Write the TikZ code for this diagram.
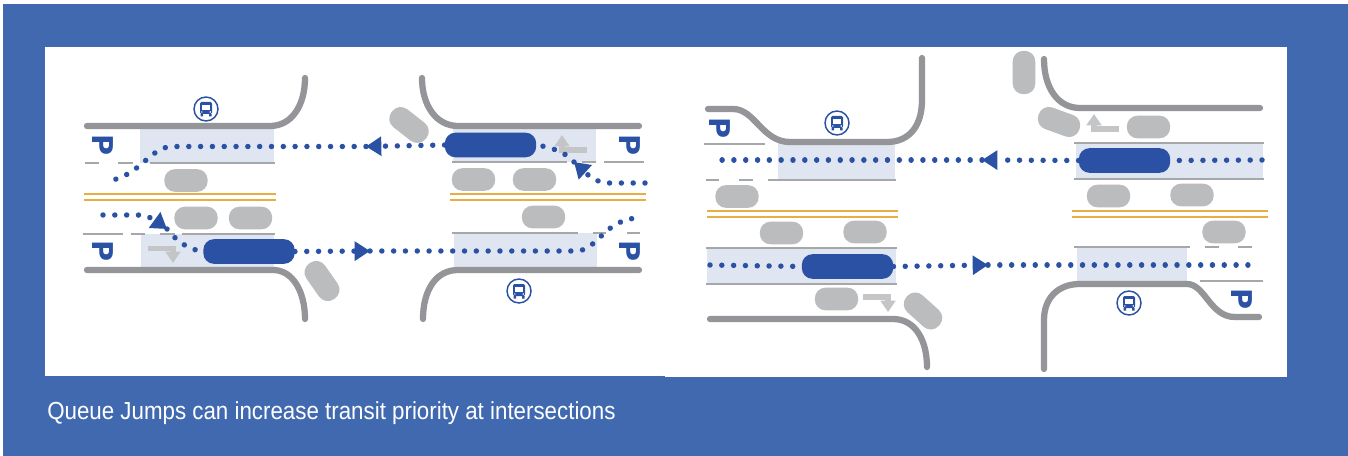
\documentclass[tikz,border=0pt]{standalone}
\usepackage{fontspec}
\setmainfont{Liberation Sans}
\newfontfamily\parkfont{DejaVu Sans}
\usetikzlibrary{arrows.meta,positioning,calc}
\definecolor{panelblue}{HTML}{4169B0}
\definecolor{busblue}{HTML}{2A51A3}
\definecolor{curbgray}{HTML}{949598}
\definecolor{cargray}{HTML}{BBBCBE}
\definecolor{turngray}{HTML}{C4C5C7}
\definecolor{linegray}{HTML}{A6A7A9}
\definecolor{lanefill}{HTML}{DFE5F1}
\definecolor{centerline}{HTML}{E8AE42}
\tikzset{
  bus/.style={fill=busblue,rounded corners=8pt,minimum width=68.5pt,minimum height=18.5pt,inner sep=0pt},
  car/.style={fill=cargray,rounded corners=8pt,minimum width=32.5pt,minimum height=17pt,inner sep=0pt},
  curb/.style={curbgray,line width=4.7pt,line cap=round},
  lane/.style={linegray,line width=1.2pt},
  yellowline/.style={centerline,line width=1.2pt},
  route/.style={busblue,line width=4.1pt,line cap=round,dash pattern=on 0.01pt off 8.85pt},
  fl/.style={-{Triangle[length=11.5pt,width=14pt]}},
  turn/.style={turngray,line width=3.9pt,-{Triangle[length=8.5pt,width=11pt]}},
  parking/.style={text=busblue,font=\parkfont\fontsize{21.5}{22}\selectfont\bfseries,rotate=-90,inner sep=0pt},
  stop/.pic={
    \draw[busblue,fill=white,line width=1.1pt] (0,0) circle (12);
    \fill[busblue,rounded corners=1pt] (-6,-7) rectangle (6,5);
    \fill[white] (-4,-4) rectangle (4,1);
    \fill[busblue] (-5.5,5) rectangle (-3,7.5) (3,5) rectangle (5.5,7.5);
    \fill[white] (-4.2,3) circle (0.8) (4.2,3) circle (0.8);
  },
}
\begin{document}
\begin{tikzpicture}[x=0.75pt,y=-0.75pt]
  \useasboundingbox (0,0) rectangle (1348,456);
  \fill[white] (0,0) rectangle (1348,456);
  \fill[panelblue] (3,4) rectangle (1348,456);
  \fill[white] (45,47) rectangle (665,376);
  \fill[white] (665,47) rectangle (1287,377);
  \node[text=white,font=\fontsize{18.5}{20}\selectfont,anchor=base west,inner sep=0pt] (caption) at (47,419)
    {\scalebox{0.905}[1]{Queue Jumps can increase transit priority at intersections}};

  % left junction
  \fill[lanefill] (140,126) rectangle (274,163);
  \fill[lanefill] (141,234) rectangle (274,270);
  \fill[lanefill] (453,126) rectangle (596,162);
  \fill[lanefill] (454,233) rectangle (597,270);
  \draw[curb] (87,126) -- (270,126) .. controls (292,126) and (305,105) .. (305,78);
  \draw[curb] (87,270) -- (273,270) .. controls (293,270) and (305,292) .. (305,319);
  \draw[curb] (422,78) .. controls (422,105) and (436,126) .. (458,126) -- (639,126);
  \draw[curb] (423,319) .. controls (423,290) and (436,270) .. (458,270) -- (639,270);
  \draw[lane] (85,163) -- (99,163) (118,163) -- (133,163) (150,163) -- (275,163);
  \draw[lane] (83,234) -- (123,234) (131,234) -- (145,234) (160,234) -- (175,234) (182,234) -- (275,234);
  \draw[lane] (452,162) -- (567,162) (582,162) -- (596,162) (604,162) -- (644,162);
  \draw[lane] (452,233) -- (578,233) (593,233) -- (606,233) (627,233) -- (640,233);
  \draw[yellowline] (84,194) -- (276,194) (84,200) -- (276,200);
  \draw[yellowline] (450,194) -- (646,194) (450,200) -- (646,200);
  \node[parking] (parkA) at (103,145) {P};
  \node[parking] (parkB) at (103,251.5) {P};
  \node[parking] (parkC) at (629.5,145) {P};
  \node[parking] (parkD) at (629.5,251.5) {P};
  \pic at (206,109) {stop};
  \pic at (519,291) {stop};
  \draw[turn] (148,248.5) -| (173,263);
  \draw[turn] (587,150) -| (562,135);
  \node[car] (carA) at (186,180.5) {};
  \node[car] (carB) at (196,218) {};
  \node[car] (carC) at (250.5,218) {};
  \node[car,rotate=-55] (carD) at (322,281) {};
  \node[car,rotate=-38] (carE) at (409,125) {};
  \node[car] (carF) at (473.5,179.5) {};
  \node[car] (carG) at (534.5,179.5) {};
  \node[car] (carH) at (543.5,217) {};
  \node[bus] (busA) at (249,251.5) {};
  \node[bus] (busB) at (490.5,145) {};
  \coordinate (startA) at (103,215);
  \coordinate (tipA) at (167,229);
  \coordinate (tipB) at (370,251);
  \coordinate (endB) at (640,218);
  \coordinate (startC) at (645,183);
  \coordinate (tipC) at (574,162);
  \coordinate (tipD) at (366,146.5);
  \coordinate (endD) at (108,181);
  \draw[route,fl] (startA) -- (138,215) .. controls (148,215) and (156,221) .. (tipA);
  \draw[route] (tipA) .. controls (176,240) and (186,249) .. (busA.west);
  \draw[route,fl] (busA.east) -- (tipB);
  \draw[route] (tipB) -- (577,251) .. controls (598,250) and (605,218) .. (endB);
  \draw[route,fl] (startC) -- (609,183) .. controls (594,183) and (585,172) .. (tipC);
  \draw[route] (tipC) .. controls (566,152) and (550,147) .. (busB.east);
  \draw[route,fl] (busB.west) -- (tipD);
  \draw[route] (tipD) -- (172,146.5) .. controls (150,147) and (140,176) .. (endD);

  % right junction
  \fill[lanefill] (778,142) rectangle (895,180);
  \fill[lanefill] (707,248) rectangle (896,284);
  \fill[lanefill] (1076,143) rectangle (1263,179);
  \fill[lanefill] (1077,247) rectangle (1187,283);
  \draw[curb] (708,109) -- (733,109) .. controls (755,109) and (762,142) .. (790,142) -- (887,142) .. controls (910,142) and (922,125) .. (922,100) -- (922,58);
  \draw[curb] (710,319) -- (893,319) .. controls (915,319) and (927,340) .. (927,367);
  \draw[curb] (1044,59) .. controls (1044,88) and (1058,108) .. (1080,108) -- (1260,108);
  \draw[curb] (1044,369) -- (1044,320) .. controls (1044,298) and (1058,284) .. (1080,284) -- (1187,284) .. controls (1205,284) and (1210,317) .. (1235,317) -- (1259,317);
  \draw[lane] (704,144) -- (765,144);
  \draw[lane] (706,180) -- (719,180) (739,180) -- (753,180) (768,180) -- (896,180);
  \draw[lane] (706,248) -- (897,248) (706,284) -- (897,284);
  \draw[lane] (1074,143) -- (1264,143) (1074,179) -- (1264,179);
  \draw[lane] (1074,247) -- (1190,247) (1205,247) -- (1219,247) (1238,247) -- (1252,247);
  \draw[lane] (1200,281) -- (1263,281);
  \draw[yellowline] (707,211) -- (898,211) (707,217) -- (898,217);
  \draw[yellowline] (1072,211) -- (1268,211) (1072,217) -- (1268,217);
  \node[parking] (parkE) at (720,128.5) {P};
  \node[parking] (parkF) at (1241.5,299.5) {P};
  \pic at (837,123) {stop};
  \pic at (1129,303) {stop};
  \draw[turn] (863,297) -| (888,312);
  \draw[turn] (1119,129) -| (1094,114);
  \node[car] (carI) at (737,196.5) {};
  \node[car] (carJ) at (781.5,233) {};
  \node[car] (carK) at (865,232) {};
  \node[car] (carL) at (836.5,299) {};
  \node[car,rotate=-42] (carM) at (923,311) {};
  \node[car,rotate=90] (carN) at (1024,72.5) {};
  \node[car,rotate=-20] (carO) at (1059,122) {};
  \node[car] (carP) at (1148.5,127) {};
  \node[car] (carQ) at (1108.5,196) {};
  \node[car] (carR) at (1192,195) {};
  \node[car] (carS) at (1224,232) {};
  \node[bus] (busC) at (847.5,266.5) {};
  \node[bus] (busD) at (1124.5,160.5) {};
  \coordinate (startE) at (710,265);
  \coordinate (tipE) at (988,265);
  \coordinate (endE) at (1253,265);
  \coordinate (startF) at (1262,160);
  \coordinate (tipF) at (982,160);
  \coordinate (endF) at (718,160);
  \draw[route] (startE) -- (busC.west);
  \draw[route,fl] (busC.east) -- (tipE);
  \draw[route] (tipE) -- (endE);
  \draw[route] (startF) -- (busD.east);
  \draw[route,fl] (busD.west) -- (tipF);
  \draw[route] (tipF) -- (endF);
\end{tikzpicture}
\end{document}
